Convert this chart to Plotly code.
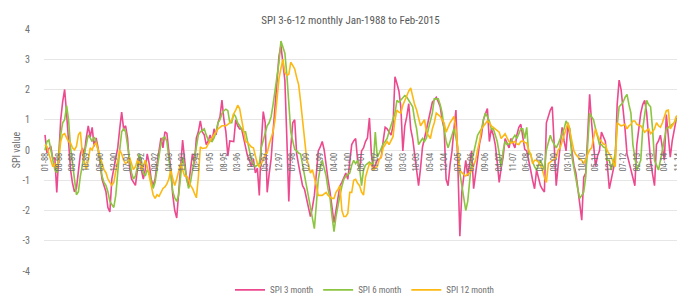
import pandas as pd
import plotly.graph_objects as go

# Monthly SPI values, Jan-1988 .. Feb-2015
spi3 = [
    0.5, -0.1, 0.05, 0.1, -0.3, -0.25, -1.4, -0.2, 1.0, 1.6, 2.0, 1.2,          # 1988
    0.4, -0.65, -1.1, -1.38, -1.27, -0.65, -0.13, 0.07, -0.13, 0.4, 0.8, 0.43,  # 1989
    0.75, 0.12, 0.4, 0.07, -0.55, -0.96, -1.17, -1.38, -1.9, -2.05, -0.96, -0.65,  # 1990
    -0.34, 0.07, 0.7, 1.25, 0.7, 0.8, 0.4, -0.55, -0.96, -1.07, -1.17, -0.65,  # 1991
    -0.24, -0.65, -0.96, -0.65, -0.13, -0.45, -0.96, -1.17, -0.96, -0.45, 0.07, 0.4,  # 1992
    0.07, 0.6, 0.55, 0.0, -0.65, -1.5, -2.0, -2.25, -1.5, -0.55, 0.33, -0.34,  # 1993
    -0.96, -1.17, -0.65, -0.13, -0.45, 0.4, 0.6, 0.96, 0.6, 0.5, 0.18, 0.3,    # 1994
    0.5, 0.3, 0.7, 0.5, 0.9, 1.1, 1.65, 1.0, 0.6, -0.2, 0.3, 0.3,              # 1995
    0.28, 1.0, 0.8, 0.7, 0.7, 0.4, 0.07, -0.2, -0.34, -0.55, -0.3, -0.76,     # 1996
    -0.6, -1.5, 0.2, 1.27, 0.9, -1.4, -0.8, -0.3, 0.6, 1.43, 2.3, 3.1,        # 1997
    3.45, 2.8, 2.3, 0.4, -1.7, 0.07, 0.9, 1.0, -0.13, -0.5, -0.86, -1.18,     # 1998
    -1.3, -1.6, -1.9, -2.2, -1.9, -1.5, -0.8, -0.03, 0.1, 0.28, 0.0, -0.55,   # 1999
    -1.0, -1.4, -2.0, -2.4, -2.0, -1.5, -1.18, -1.07, -0.9, -0.76, -0.97, -0.4,  # 2000
    0.18, 0.3, 0.38, -0.34, -0.65, -0.03, 0.07, 0.28, 0.4, 1.06, -0.13, -0.66,  # 2001
    -0.5, -0.34, -0.3, -0.24, 0.3, 0.75, 0.7, 0.6, 0.49, 0.8, 2.42, 2.2,      # 2002
    1.95, 1.4, -0.03, 0.8, 1.1, 1.53, 0.7, 0.38, -0.2, -0.66, -1.18, -0.6,    # 2003
    0.1, 0.38, 0.7, 1.0, 1.32, 1.58, 1.65, 1.74, 1.6, 1.43, 1.0, 0.7,         # 2004
    -0.97, -1.18, -0.5, -0.03, 0.7, 1.32, -0.55, -2.85, -1.39, -0.8, -0.34, -0.86,  # 2005
    -0.4, -0.03, -1.28, -0.8, -0.34, 0.2, 0.49, 1.0, 1.2, 1.37, 0.28, 0.7,    # 2006
    0.5, 0.18, -0.4, -1.07, -0.6, -0.24, 0.38, 0.2, 0.07, 0.38, 0.2, 0.07,    # 2007
    0.5, 0.75, 0.85, 0.5, 0.02, -0.03, -0.3, -0.66, -1.0, -1.28, -0.66, -0.9,  # 2008
    -1.18, -1.3, -1.39, 0.9, 1.1, 1.32, 1.43, 0.18, -1.18, -0.5, 0.18, 0.75,  # 2009
    0.3, -0.03, 0.9, 0.4, -0.03, -0.5, -0.76, -1.28, -1.8, -2.32, -0.9, -0.76,  # 2010
    0.49, 1.84, 0.9, 0.2, -0.55, -0.2, -0.03, 0.59, 0.4, 0.28, -0.5, -1.28,   # 2011
    -0.97, -0.6, -0.34, 1.5, 2.31, 2.0, 1.4, 0.7, -0.13, -0.4, -0.66, -0.9,   # 2012
    -1.18, 0.18, 0.7, 1.22, 1.5, 1.64, 1.22, 0.4, -0.34, -0.8, -1.18, 0.18,   # 2013
    0.3, 0.49, 0.1, -0.34, 1.17, 0.5, -0.24, 0.3, 0.7, 1.0, 1.11, 0.7,        # 2014
    0.6, 0.75,                                                                 # 2015
]

spi6 = [
    0.0, 0.28, 0.33, 0.0, -0.34, -0.65, -0.75, 0.0, 0.5, 0.9, 1.0, 1.47,      # 1988
    1.0, 0.07, -0.55, -0.96, -1.48, -1.38, -0.86, -0.45, -0.13, 0.18, 0.5, 0.4,  # 1989
    0.28, 0.43, 0.28, 0.0, -0.34, -0.86, -1.07, -1.17, -1.38, -1.7, -1.8, -1.9,  # 1990
    -1.5, -0.65, 0.0, 0.6, 0.7, 0.6, 0.18, -0.34, -0.75, -0.96, -0.86, -0.55,  # 1991
    -0.13, -0.34, -0.75, -0.86, -0.65, -0.75, -1.07, -1.27, -1.07, -0.65, -0.24, 0.23,  # 1992
    0.4, 0.43, 0.28, -0.24, -0.86, -1.38, -1.58, -1.7, -1.48, -0.86, -0.24, -0.55,  # 1993
    -0.96, -1.27, -1.07, -0.65, -0.24, 0.18, 0.5, 0.6, 0.65, 0.7, 0.5, 0.33,  # 1994
    0.3, 0.28, 0.4, 0.6, 0.9, 1.0, 1.2, 1.3, 1.35, 1.3, 0.9, 0.9,             # 1995
    1.2, 1.1, 0.9, 0.8, 0.7, 0.6, 0.6, 0.3, 0.07, -0.34, -0.45, -0.55,        # 1996
    -0.5, -0.45, 0.07, 0.3, 0.5, 0.8, 0.9, 1.1, 1.5, 1.95, 2.4, 2.9,          # 1997
    3.6, 3.4, 3.2, 2.5, 1.43, 0.6, 0.3, 0.02, -0.03, -0.1, -0.13, -0.5,       # 1998
    -0.86, -1.2, -1.6, -2.0, -2.3, -2.6, -1.8, -0.97, -0.6, -0.34, -0.6, -0.86,  # 1999
    -1.3, -1.6, -2.2, -2.7, -2.2, -1.8, -1.5, -1.2, -0.97, -0.86, -0.8, -0.76,  # 2000
    -0.5, -0.34, -0.45, -0.34, -0.6, -1.18, -0.66, -0.5, -0.45, -0.4, -0.45, -0.45,  # 2001
    0.59, -0.24, -0.1, 0.07, 0.2, 0.28, 0.38, 0.6, 0.8, 1.0, 1.22, 1.64,      # 2002
    1.58, 1.65, 1.74, 1.8, 1.75, 1.64, 1.5, 1.43, 1.0, 0.7, 0.18, 0.3,        # 2003
    0.38, 0.28, 0.4, 0.7, 1.0, 1.22, 1.69, 1.7, 1.69, 1.5, 1.22, 0.7,         # 2004
    0.3, 0.07, 0.3, 0.49, 0.7, 0.4, 0.07, -0.76, -1.2, -1.6, -2.0, -1.7,      # 2005
    -1.0, -0.34, -0.1, 0.18, 0.49, 0.6, 0.7, 1.0, 1.22, 1.1, 0.96, 0.7,       # 2006
    0.7, 0.5, 0.28, -0.1, -0.55, -0.03, 0.28, 0.18, 0.2, 0.28, 0.4, 0.49,     # 2007
    0.38, 0.55, 0.7, 0.7, 0.38, 0.75, -0.13, -0.13, -0.4, -0.55, -0.66, -0.5,  # 2008
    -0.34, -0.5, -0.66, 0.0, 0.28, 0.49, 0.3, 0.18, 0.07, 0.2, 0.38, 0.5,     # 2009
    0.7, 0.96, 0.85, 0.7, -0.24, -0.6, -1.07, -1.3, -1.6, -1.5, -1.39, -0.9,  # 2010
    0.3, 1.22, 1.1, 1.0, 0.7, 0.4, 0.18, 0.18, 0.1, 0.07, -0.34, -0.34,       # 2011
    -0.66, -0.4, -0.13, 0.8, 1.43, 1.5, 1.58, 1.74, 1.84, 1.5, 1.22, 0.18,    # 2012
    -0.3, -0.66, -0.5, -0.34, 0.7, 1.2, 1.64, 1.5, 1.43, 0.7, -0.34, -0.5,    # 2013
    -0.66, -0.34, -0.03, 0.3, 0.7, 0.75, 0.8, 0.85, 0.9, 1.0, 1.0, 0.6,       # 2014
    1.22, 1.0,                                                                 # 2015
]

spi12 = [
    0.18, 0.12, -0.13, -0.34, -0.55, -0.45, -0.6, -0.34, 0.28, 0.5, 0.54, 0.4,  # 1988
    0.28, 0.23, 0.07, 0.0, 0.12, 0.5, 0.6, -0.13, -0.45, -0.65, -0.34, 0.07,  # 1989
    0.0, 0.18, 0.23, 0.0, -0.24, -0.45, -0.65, -0.75, -0.96, -1.07, -1.17, -1.07,  # 1990
    -0.75, -0.34, 0.0, -0.13, -0.34, -0.45, -0.4, -0.24, -0.45, -0.65, -0.55, -0.34,  # 1991
    -0.4, -0.65, -0.55, -0.34, -0.55, -0.86, -1.17, -1.48, -1.6, -1.48, -1.53, -1.38,  # 1992
    -1.27, -1.22, -1.12, -0.96, -0.65, -0.96, -1.17, -0.96, -0.65, -0.45, -0.65, -0.86,  # 1993
    -0.86, -0.96, -1.17, -1.27, -1.43, -1.58, -0.9, 0.1, 0.05, 0.07, 0.07, 0.2,  # 1994
    0.3, 0.38, 0.5, 0.6, 0.7, 0.75, 0.8, 0.8, 0.8, 0.85, 0.9, 1.0,            # 1995
    1.2, 1.32, 1.48, 1.37, 1.0, 0.6, 0.28, 0.25, 0.18, 0.1, 0.07, -0.2,       # 1996
    -0.45, -0.55, -0.45, -0.34, -0.13, -0.1, 0.18, 0.4, 0.6, 1.0, 1.63, 2.36,  # 1997
    2.7, 3.0, 2.57, 2.47, 2.5, 2.9, 2.8, 2.68, 2.4, 2.16, 1.6, 1.0,           # 1998
    0.38, -0.24, -0.5, -0.76, -0.65, -0.9, -1.18, -1.5, -1.5, -1.5, -1.45, -1.4,  # 1999
    -1.5, -1.55, -1.6, -1.6, -1.4, -1.3, -1.18, -2.0, -2.2, -2.2, -2.1, -1.4,  # 2000
    -1.4, -1.0, -0.97, -1.1, -1.18, -1.39, -1.49, -0.9, -0.66, -0.45, -0.5, -0.66,  # 2001
    -0.6, -0.55, -0.3, -0.24, 0.07, 0.2, 0.28, 0.18, 0.3, 0.44, 1.0, 1.32,    # 2002
    1.25, 1.22, 1.48, 1.65, 1.8, 1.95, 2.05, 1.74, 1.5, 1.32, 1.0, 0.8,       # 2003
    0.9, 1.0, 0.59, 0.5, 0.38, 0.7, 0.9, 1.22, 1.15, 1.11, 1.0, 0.9,          # 2004
    0.59, 0.75, 0.9, 1.0, 1.11, 0.7, 0.0, -0.66, -0.75, -0.81, -0.86, -0.8,   # 2005
    -0.76, -0.66, -0.5, -0.34, 0.0, 0.28, 0.7, 0.8, 0.9, 0.96, 0.9, 0.8,      # 2006
    0.75, 0.7, 0.65, 0.59, 0.38, 0.45, 0.54, 0.4, 0.28, 0.23, 0.25, 0.28,     # 2007
    0.2, 0.18, 0.28, 0.3, 0.25, 0.23, 0.0, -0.13, -0.45, -0.34, -0.34, -0.4,  # 2008
    -0.5, -0.66, -0.9, -1.07, -0.45, -0.4, -0.34, -0.3, -0.24, 0.0, 0.07, 0.28,  # 2009
    0.5, 0.7, 0.9, 0.6, 0.28, -0.03, -0.15, -0.24, -0.3, -0.34, -0.45, -0.3,  # 2010
    -0.13, 0.0, 0.07, 0.4, 0.7, 0.49, 0.35, 0.28, 0.2, 0.18, -0.03, -0.13,    # 2011
    -0.24, -0.4, -0.55, 0.9, 0.85, 0.8, 0.82, 0.85, 0.7, 0.8, 0.85, 0.96,     # 2012
    0.96, 0.85, 0.82, 0.8, 0.7, 0.59, 0.65, 0.7, 0.54, 0.6, 0.7, 0.9,         # 2013
    0.8, 0.75, 0.9, 1.11, 1.3, 1.32, 0.7, 0.8, 0.9, 1.11, 1.15, 1.22,         # 2014
    1.25, 1.27,                                                                # 2015
]

months = [d.strftime("%m-%y") for d in pd.date_range("1988-01-01", periods=len(spi3), freq="MS")]
x_tick_labels = months[::7]
y_tick_values = [4, 3, 2, 1, 0, -1, -2, -3, -4]
y_tick_labels = ["4", "3", "2", "1", "0", "-1", "-2", "-3", "-4"]

series_names = ["SPI 3 month", "SPI 6 month", "SPI 12 month"]
series_colors = ["#EC4A8F", "#8CC540", "#FDB913"]

FONT = "Liberation Sans Narrow, Roboto Condensed, Lato, sans-serif"
GREY = "#707070"

fig = go.Figure()
for name, vals, col in zip(series_names, [spi3, spi6, spi12], series_colors):
    fig.add_trace(go.Scatter(x=months, y=vals, mode="lines", name=name,
                             line=dict(color=col, width=1.6)))

fig.update_layout(
    width=685, height=304,
    margin=dict(l=30, r=8, t=21, b=27),
    paper_bgcolor="white", plot_bgcolor="white",
    font=dict(family=FONT, color=GREY, size=10),
    title=dict(text="SPI 3-6-12 monthly Jan-1988 to Feb-2015", x=0.5, xanchor="center",
               y=1 - 12 / 304, yanchor="middle", font=dict(size=11, color="#595959")),
    legend=dict(orientation="h", x=0.5, xanchor="center", y=-0.078, yanchor="middle",
                font=dict(size=9, color=GREY), itemwidth=30, tracegroupgap=0),
    showlegend=True,
)
fig.update_xaxes(
    type="category", categoryorder="array", categoryarray=months,
    range=[-0.5, len(months) - 0.5],
    tickmode="array", tickvals=x_tick_labels, ticktext=x_tick_labels,
    tickangle=-90, tickfont=dict(size=8.5, color=GREY),
    showgrid=False, showline=False, zeroline=False, ticks="",
    anchor="free", position=0.5,
)
fig.update_yaxes(
    range=[-4, 4], tickmode="array", tickvals=y_tick_values, ticktext=y_tick_labels,
    showgrid=True, gridcolor="#e6e6e6", gridwidth=1, zeroline=False,
    tickfont=dict(size=10, color=GREY), ticklabelstandoff=13,
    title=dict(text="SPI value", standoff=0, font=dict(size=10, color=GREY)),
)

fig.write_html("out.html")
